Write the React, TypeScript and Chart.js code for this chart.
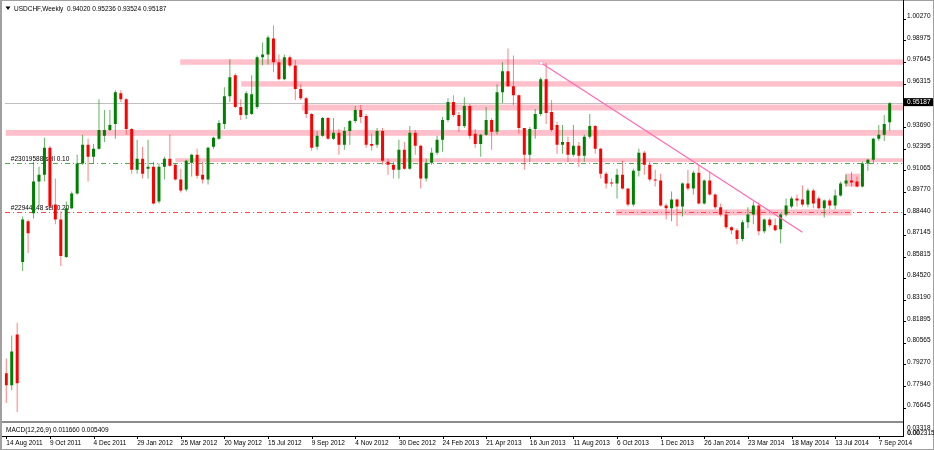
import { useEffect, useRef } from "react";
import { Chart, registerables } from "chart.js";

Chart.register(...registerables);

// weekly bars, one label every 8 bars starting at bar 0
const dateLabels = [
  "14 Aug 2011", "9 Oct 2011", "4 Dec 2011", "29 Jan 2012", "25 Mar 2012", "20 May 2012",
  "15 Jul 2012", "9 Sep 2012", "4 Nov 2012", "30 Dec 2012", "24 Feb 2013", "21 Apr 2013",
  "16 Jun 2013", "11 Aug 2013", "6 Oct 2013", "1 Dec 2013", "26 Jan 2014", "23 Mar 2014",
  "18 May 2014", "13 Jul 2014", "7 Sep 2014",
];
const barsPerLabel = 8;

const open = [
  0.7876, 0.7804, 0.8112, 0.8553, 0.8800, 0.8849, 0.9042, 0.9084, 0.9247, 0.8903,
  0.8812, 0.8583, 0.8879, 0.8969, 0.9151, 0.9265, 0.9193, 0.9241, 0.9320, 0.9356,
  0.9392, 0.9579, 0.9543, 0.9362, 0.9114, 0.9181, 0.9120, 0.9132, 0.8921, 0.9132,
  0.9181, 0.9144, 0.9054, 0.8993, 0.9157, 0.9205, 0.9084, 0.9054, 0.9253, 0.9302,
  0.9392, 0.9561, 0.9688, 0.9495, 0.9447, 0.9453, 0.9495, 0.9797, 0.9815, 0.9912,
  0.9767, 0.9664, 0.9797, 0.9748, 0.9604, 0.9549, 0.9453, 0.9253, 0.9320, 0.9428,
  0.9302, 0.9338, 0.9265, 0.9350, 0.9410, 0.9477, 0.9440, 0.9271, 0.9265, 0.9350,
  0.9163, 0.9144, 0.9114, 0.9235, 0.9120, 0.9338, 0.9259, 0.9060, 0.9157, 0.9217,
  0.9296, 0.9416, 0.9525, 0.9447, 0.9380, 0.9501, 0.9332, 0.9271, 0.9326, 0.9416,
  0.9344, 0.9585, 0.9712, 0.9622, 0.9567, 0.9368, 0.9205, 0.9362, 0.9453, 0.9664,
  0.9465, 0.9386, 0.9265, 0.9283, 0.9205, 0.9259, 0.9199, 0.9314, 0.9380, 0.9241,
  0.9090, 0.9036, 0.9030, 0.9084, 0.8999, 0.8903, 0.9108, 0.9217, 0.9144, 0.9054,
  0.9048, 0.8897, 0.8879, 0.8933, 0.8891, 0.9030, 0.8999, 0.9096, 0.8909, 0.9048,
  0.8963, 0.8885, 0.8842, 0.8764, 0.8746, 0.8692, 0.8794, 0.8842, 0.8897, 0.8740,
  0.8812, 0.8776, 0.8752, 0.8842, 0.8891, 0.8939, 0.8933, 0.8903, 0.8987, 0.8939,
  0.8879, 0.8927, 0.8897, 0.8957, 0.9030, 0.9048, 0.9042, 0.9012, 0.9151, 0.9175,
  0.9302, 0.9326, 0.94020,
];
const high = [
  0.7967, 0.8106, 0.8184, 0.8830, 0.8812, 0.9163, 0.9132, 0.9308, 0.9259, 0.9060,
  0.8861, 0.8921, 0.8981, 0.9205, 0.9326, 0.9302, 0.9271, 0.9543, 0.9477, 0.9477,
  0.9597, 0.9597, 0.9549, 0.9368, 0.9296, 0.9253, 0.9296, 0.9163, 0.9151, 0.9193,
  0.9326, 0.9151, 0.9120, 0.9175, 0.9211, 0.9241, 0.9163, 0.9253, 0.9314, 0.9416,
  0.9616, 0.9785, 0.9700, 0.9543, 0.9591, 0.9688, 0.9809, 0.9887, 0.9930, 0.9990,
  0.9815, 0.9815, 0.9809, 0.9779, 0.9634, 0.9555, 0.9459, 0.9350, 0.9434, 0.9434,
  0.9428, 0.9362, 0.9374, 0.9416, 0.9501, 0.9507, 0.9453, 0.9332, 0.9368, 0.9368,
  0.9181, 0.9163, 0.9296, 0.9283, 0.9380, 0.9356, 0.9265, 0.9181, 0.9247, 0.9320,
  0.9434, 0.9549, 0.9567, 0.9465, 0.9555, 0.9513, 0.9362, 0.9332, 0.9495, 0.9428,
  0.9634, 0.9767, 0.9851, 0.9809, 0.9573, 0.9368, 0.9374, 0.9483, 0.9676, 0.9761,
  0.9537, 0.9404, 0.9386, 0.9314, 0.9386, 0.9283, 0.9326, 0.9453, 0.9386, 0.9247,
  0.9102, 0.9060, 0.9120, 0.9169, 0.8999, 0.9120, 0.9241, 0.9229, 0.9163, 0.9114,
  0.9090, 0.8909, 0.8981, 0.8939, 0.9036, 0.9114, 0.9108, 0.9144, 0.9054, 0.9102,
  0.8969, 0.8909, 0.8867, 0.8770, 0.8758, 0.8806, 0.8885, 0.8921, 0.8915, 0.8818,
  0.8824, 0.8818, 0.8849, 0.8939, 0.8951, 0.8963, 0.9018, 0.8999, 0.8999, 0.8951,
  0.8933, 0.8939, 0.8993, 0.9042, 0.9084, 0.9102, 0.9072, 0.9163, 0.9181, 0.9308,
  0.9386, 0.9447, 0.95236,
];
const low = [
  0.7695, 0.7773, 0.7641, 0.8498, 0.8607, 0.8818, 0.8891, 0.9042, 0.8879, 0.8782,
  0.8528, 0.8577, 0.8873, 0.8963, 0.9144, 0.9042, 0.9151, 0.9235, 0.9283, 0.9350,
  0.9302, 0.9525, 0.9326, 0.9090, 0.9090, 0.9060, 0.9060, 0.8903, 0.8909, 0.9054,
  0.9132, 0.9048, 0.8975, 0.8981, 0.9072, 0.9060, 0.9030, 0.9024, 0.9241, 0.9296,
  0.9362, 0.9525, 0.9489, 0.9416, 0.9422, 0.9447, 0.9483, 0.9748, 0.9754, 0.9706,
  0.9658, 0.9658, 0.9736, 0.9537, 0.9537, 0.9428, 0.9229, 0.9235, 0.9314, 0.9296,
  0.9296, 0.9205, 0.9235, 0.9265, 0.9398, 0.9398, 0.9247, 0.9229, 0.9247, 0.9144,
  0.9084, 0.9060, 0.9060, 0.9114, 0.9114, 0.9205, 0.8999, 0.9042, 0.9144, 0.9205,
  0.9223, 0.9404, 0.9434, 0.9344, 0.9368, 0.9302, 0.9247, 0.9193, 0.9320, 0.9235,
  0.9326, 0.9519, 0.9616, 0.9507, 0.9332, 0.9114, 0.9163, 0.9302, 0.9440, 0.9392,
  0.9344, 0.9211, 0.9211, 0.9163, 0.9193, 0.9132, 0.9163, 0.9302, 0.9211, 0.9060,
  0.8999, 0.9012, 0.8939, 0.8993, 0.8891, 0.8891, 0.9072, 0.9084, 0.9042, 0.9012,
  0.8891, 0.8812, 0.8800, 0.8770, 0.8830, 0.8987, 0.8963, 0.8903, 0.8903, 0.8957,
  0.8873, 0.8830, 0.8752, 0.8722, 0.8661, 0.8679, 0.8758, 0.8782, 0.8716, 0.8728,
  0.8764, 0.8740, 0.8667, 0.8830, 0.8879, 0.8891, 0.8891, 0.8885, 0.8879, 0.8873,
  0.8824, 0.8873, 0.8873, 0.8951, 0.9012, 0.9012, 0.9006, 0.9006, 0.9108, 0.9157,
  0.9289, 0.9289, 0.93524,
];
const close = [
  0.7804, 0.8009, 0.7816, 0.8812, 0.8728, 0.9042, 0.9084, 0.9247, 0.8891, 0.8812,
  0.8589, 0.8879, 0.8969, 0.9151, 0.9265, 0.9193, 0.9241, 0.9356, 0.9356, 0.9386,
  0.9585, 0.9543, 0.9362, 0.9114, 0.9181, 0.9090, 0.9132, 0.8909, 0.9132, 0.9181,
  0.9138, 0.9054, 0.8987, 0.9169, 0.9205, 0.9078, 0.9054, 0.9247, 0.9308, 0.9398,
  0.9561, 0.9676, 0.9495, 0.9447, 0.9579, 0.9573, 0.9797, 0.9815, 0.9918, 0.9767,
  0.9664, 0.9797, 0.9748, 0.9604, 0.9549, 0.9453, 0.9247, 0.9320, 0.9428, 0.9302,
  0.9338, 0.9265, 0.9350, 0.9410, 0.9477, 0.9434, 0.9265, 0.9259, 0.9350, 0.9169,
  0.9144, 0.9114, 0.9235, 0.9120, 0.9338, 0.9259, 0.9060, 0.9157, 0.9217, 0.9296,
  0.9416, 0.9525, 0.9447, 0.9380, 0.9501, 0.9320, 0.9271, 0.9326, 0.9416, 0.9344,
  0.9585, 0.9712, 0.9622, 0.9567, 0.9368, 0.9205, 0.9362, 0.9453, 0.9664, 0.9459,
  0.9356, 0.9265, 0.9283, 0.9205, 0.9259, 0.9199, 0.9314, 0.9380, 0.9241, 0.9090,
  0.9030, 0.9030, 0.9084, 0.8999, 0.8903, 0.9108, 0.9217, 0.9144, 0.9054, 0.9048,
  0.8897, 0.8879, 0.8933, 0.8891, 0.9030, 0.8999, 0.9096, 0.8909, 0.9048, 0.8963,
  0.8885, 0.8842, 0.8764, 0.8746, 0.8692, 0.8794, 0.8842, 0.8897, 0.8740, 0.8812,
  0.8776, 0.8746, 0.8842, 0.8897, 0.8939, 0.8927, 0.8903, 0.8987, 0.8909, 0.8879,
  0.8927, 0.8897, 0.8957, 0.9030, 0.9048, 0.9036, 0.9012, 0.9151, 0.9175, 0.9302,
  0.9326, 0.9392, 0.95187,
];

// price axis labels as MT4 prints them
const priceTicks = [
  1.0027, 0.98975, 0.97645, 0.96315, 0.9502, 0.9369, 0.92395, 0.91065, 0.8977, 0.8844,
  0.87145, 0.85815, 0.8452, 0.8319, 0.81895, 0.80565, 0.7927, 0.7794, 0.76645,
];

// pink rectangles (bar index range, price range); null = runs to the right edge
const zoneFrom = [31.9, 43.1, 54.2, -0.1, 31.0, 111.8, 153.8];
const zoneTo: (number | null)[] = [null, null, null, null, null, 155.0, 156.6];
const zoneTop = [0.9785, 0.9652, 0.951, 0.9356, 0.9184, 0.8873, 0.909];
const zoneBottom = [0.9752, 0.9619, 0.9474, 0.932, 0.916, 0.8836, 0.9012];

// order lines
const orderPrice = [0.9153, 0.8857];
const orderLabel = ["#23019588 sell 0.10", "#22944148 sell 0.20"];
const orderColor = ["#52a852", "#ff4646"];

// trend line (bar index, price)
const trendX = [98.1, 146.0];
const trendY = [0.9762, 0.8734];

const macdLabel = "MACD(12,26,9) 0.011660 0.005409";

const xMin = -0.27;
const xMax = 164.44;
const yMin = 0.75863;
const yMax = 1.01165;

const FONT = '6.5px "Liberation Sans", Arial, sans-serif';
const GREEN = "#008000";
const RED = "#ff0000";

const last = close.length - 1;
const isUp = (i: number) => close[i] >= open[i];

const mt4Plugin = {
  id: "mt4",
  beforeDatasetsDraw(chart: any) {
    const { ctx, chartArea: a, scales } = chart;
    const x = scales.x;
    const y = scales.y;
    ctx.save();
    ctx.beginPath();
    ctx.rect(a.left, a.top, a.right - a.left, a.bottom - a.top);
    ctx.clip();

    ctx.fillStyle = "#ffc0cb";
    zoneTop.forEach((top, i) => {
      const x0 = x.getPixelForValue(zoneFrom[i]);
      const to = zoneTo[i];
      const x1 = to === null ? a.right : x.getPixelForValue(to);
      const y0 = y.getPixelForValue(top);
      const y1 = y.getPixelForValue(zoneBottom[i]);
      ctx.fillRect(x0, y0, x1 - x0, y1 - y0);
    });

    // bid line
    ctx.fillStyle = "#c0c0c0";
    ctx.fillRect(a.left, Math.round(y.getPixelForValue(close[last])), a.right - a.left, 1);

    // order lines, dash-dot (dash 5, gap 3, dot 1, gap 3)
    orderPrice.forEach((p, i) => {
      const oy = Math.round(y.getPixelForValue(p));
      ctx.fillStyle = orderColor[i];
      for (let px = Math.round(a.left); px < a.right; px += 12) {
        ctx.fillRect(px, oy, 5, 1);
        ctx.fillRect(px + 8, oy, 1, 1);
      }
    });

    ctx.font = FONT;
    ctx.fillStyle = "#000";
    ctx.textAlign = "left";
    ctx.textBaseline = "alphabetic";
    orderPrice.forEach((p, i) => {
      ctx.fillText(orderLabel[i], a.left + 6, y.getPixelForValue(p) - 2);
    });
    ctx.restore();
  },
  afterDraw(chart: any) {
    const { ctx, chartArea: a, scales, width, height } = chart;
    const x = scales.x;
    const y = scales.y;
    ctx.save();

    // window frame
    ctx.fillStyle = "#a0a0a0";
    ctx.fillRect(0, 0, 2, height);
    ctx.fillRect(0, 0, width, 1);
    ctx.fillRect(width - 1, 0, 1, height);
    ctx.fillRect(0, height - 1, width, 1);

    // MACD sub window
    ctx.fillStyle = "#8c8c8c";
    ctx.fillRect(2, a.bottom, a.right - 2, 2);
    ctx.fillStyle = "#000";
    ctx.fillRect(a.right, 0, 1, 437);
    ctx.fillRect(2, 436, a.right - 1, 1);

    ctx.font = FONT;
    ctx.textAlign = "left";
    ctx.textBaseline = "alphabetic";
    ctx.fillText(macdLabel, 6, 431.5);
    ctx.fillText("0.03318", a.right + 4, 429.5);
    ctx.fillText("0.00", a.right + 4, 434.5);
    ctx.fillText("0.002315", a.right + 4.5, 435);

    // time axis
    dateLabels.forEach((label, k) => {
      const px = x.getPixelForValue(k * barsPerLabel);
      ctx.fillRect(Math.round(px), 436, 1, 3);
      ctx.fillText(label, px, 445);
    });

    // header
    ctx.beginPath();
    ctx.moveTo(5.5, 6.5);
    ctx.lineTo(10.5, 6.5);
    ctx.lineTo(8, 10);
    ctx.closePath();
    ctx.fill();
    const hdr = `USDCHF,Weekly  ${open[last].toFixed(5)} ${high[last].toFixed(5)} ${low[last].toFixed(5)} ${close[last].toFixed(5)}`;
    ctx.fillText(hdr, 14, 10.5);

    // last price marker
    const py = y.getPixelForValue(close[last]);
    ctx.fillStyle = "#000";
    ctx.fillRect(a.right, py - 5, width - a.right - 1, 8);
    ctx.fillStyle = "#fff";
    ctx.textBaseline = "middle";
    ctx.fillText(close[last].toFixed(5), a.right + 4, py - 1);

    ctx.restore();
  },
};

export default function App() {
  const canvasRef = useRef<HTMLCanvasElement | null>(null);

  useEffect(() => {
    document.body.style.margin = "0";
    document.body.style.overflow = "hidden";
    if (!canvasRef.current) return;

    const bodies = open.map((o, i) => ({ x: i, y: [o, close[i]] }));
    const wicks = low.map((l, i) => ({ x: i, y: [l, high[i]] }));

    const chart = new Chart(canvasRef.current, {
      type: "bar",
      data: {
        datasets: [
          {
            type: "line",
            label: "trend",
            data: trendX.map((tx, i) => ({ x: tx, y: trendY[i] })),
            borderColor: "#ff69b4",
            borderWidth: 1.2,
            pointRadius: [1.8, 0],
            pointBackgroundColor: "#fff",
            pointBorderColor: "#ffa0c8",
            pointBorderWidth: 0.8,
            order: 0,
          },
          {
            label: "body",
            data: bodies,
            backgroundColor: (c: any) => (isUp(c.dataIndex ?? 0) ? GREEN : RED),
            barThickness: 3,
            minBarLength: 1,
            inflateAmount: 0,
            grouped: false,
            order: 1,
          },
          {
            label: "wick",
            data: wicks,
            backgroundColor: (c: any) =>
              isUp(c.dataIndex ?? 0) ? "rgba(0,128,0,0.6)" : "rgba(255,0,0,0.5)",
            barThickness: 1,
            inflateAmount: 0,
            grouped: false,
            order: 2,
          },
        ] as any,
      },
      options: {
        responsive: false,
        animation: false,
        events: [],
        layout: { padding: { left: 2, top: 2, right: 0, bottom: 29 } },
        plugins: {
          legend: { display: false },
          tooltip: { enabled: false },
        },
        scales: {
          x: {
            type: "linear",
            min: xMin,
            max: xMax,
            offset: false,
            display: false,
          },
          y: {
            type: "linear",
            position: "right",
            min: yMin,
            max: yMax,
            beginAtZero: false,
            bounds: "data",
            afterBuildTicks: (s: any) => {
              s.ticks = priceTicks.map((value) => ({ value }));
            },
            afterFit: (s: any) => {
              s.width = 31;
              s.paddingTop = 0;
              s.paddingBottom = 0;
            },
            grid: {
              drawOnChartArea: false,
              drawTicks: true,
              tickLength: 3,
              color: "#000",
            },
            border: { display: true, color: "#000", width: 1 },
            ticks: {
              autoSkip: false,
              padding: 1,
              labelOffset: -3,
              color: "#000",
              font: { family: '"Liberation Sans", Arial, sans-serif', size: 6.5 },
              callback: (v: any) => Number(v).toFixed(5),
            },
          },
        },
      } as any,
      plugins: [mt4Plugin],
    });

    return () => {
      chart.destroy();
    };
  }, []);

  return (
    <div style={{ width: 934, height: 450, background: "#fff" }}>
      <canvas ref={canvasRef} width={934} height={450} style={{ display: "block" }} />
    </div>
  );
}
